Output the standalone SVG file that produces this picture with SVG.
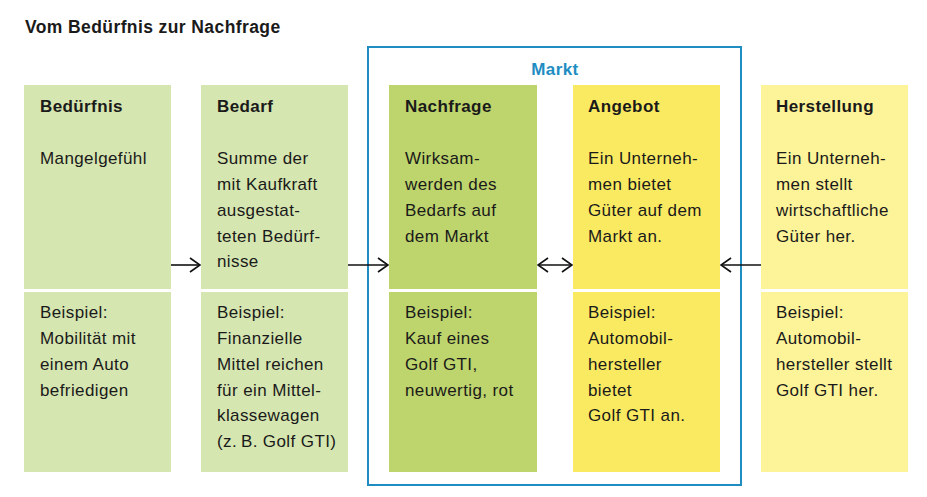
<svg xmlns="http://www.w3.org/2000/svg" width="927" height="497" viewBox="0 0 927 497">
<style>
text{font-family:"Liberation Sans",Arial,sans-serif;fill:#1a1a1a;letter-spacing:0.4px}
.t{font-size:17.5px;font-weight:bold}
.h{font-size:17px;font-weight:bold}
.b{font-size:17px}
.m{font-size:17px;font-weight:bold;fill:#1f8dc2}
.c1{fill:#d6e6b0}
.c2{fill:#bed46c}
.c3{fill:#faea62}
.c4{fill:#fdf398}
.con{stroke:#111;stroke-width:1.6;fill:none}
</style>
<defs>
<marker id="ah" viewBox="0 0 12 16" refX="11" refY="8" markerWidth="12" markerHeight="16" markerUnits="userSpaceOnUse" orient="auto-start-reverse">
<path d="M1,1 L11,8 L1,15" fill="none" stroke="#111" stroke-width="1.6"/>
</marker>
</defs>
<rect width="927" height="497" fill="#fff"/>
<text class="t" x="25" y="33">Vom Bedürfnis zur Nachfrage</text>
<g id="markt">
<rect x="368" y="47" width="373" height="438" fill="none" stroke="#1f8dc2" stroke-width="2"/>
<text class="m" x="555" y="75" text-anchor="middle">Markt</text>
</g>
<g id="beduerfnis">
<rect class="c1" x="24" y="85" width="147" height="204"/>
<rect class="c1" x="24" y="292" width="147" height="180"/>
<text class="h" x="40" y="112">Bedürfnis</text>
<text class="b" x="40" y="164">Mangelgefühl</text>
<text class="b" x="40" y="318">Beispiel:</text>
<text class="b" x="40" y="344">Mobilität mit</text>
<text class="b" x="40" y="370">einem Auto</text>
<text class="b" x="40" y="396">befriedigen</text>
</g>
<g id="bedarf">
<rect class="c1" x="201" y="85" width="147" height="204"/>
<rect class="c1" x="201" y="292" width="147" height="180"/>
<text class="h" x="217" y="112">Bedarf</text>
<text class="b" x="217" y="164">Summe der</text>
<text class="b" x="217" y="190">mit Kaufkraft</text>
<text class="b" x="217" y="216">ausgestat-</text>
<text class="b" x="217" y="242">teten Bedürf-</text>
<text class="b" x="217" y="267">nisse</text>
<text class="b" x="217" y="318">Beispiel:</text>
<text class="b" x="217" y="344">Finanzielle</text>
<text class="b" x="217" y="370">Mittel reichen</text>
<text class="b" x="217" y="396">für ein Mittel-</text>
<text class="b" x="217" y="421">klassewagen</text>
<text class="b" x="217" y="447">(z.&#8239;B. Golf GTI)</text>
</g>
<g id="nachfrage">
<rect class="c2" x="389" y="85" width="148" height="204"/>
<rect class="c2" x="389" y="292" width="148" height="180"/>
<text class="h" x="405" y="112">Nachfrage</text>
<text class="b" x="405" y="164">Wirksam-</text>
<text class="b" x="405" y="190">werden des</text>
<text class="b" x="405" y="216">Bedarfs auf</text>
<text class="b" x="405" y="242">dem Markt</text>
<text class="b" x="405" y="318">Beispiel:</text>
<text class="b" x="405" y="344">Kauf eines</text>
<text class="b" x="405" y="370">Golf GTI,</text>
<text class="b" x="405" y="396">neuwertig, rot</text>
</g>
<g id="angebot">
<rect class="c3" x="573" y="85" width="147" height="204"/>
<rect class="c3" x="573" y="292" width="147" height="180"/>
<text class="h" x="588" y="112">Angebot</text>
<text class="b" x="588" y="164">Ein Unterneh-</text>
<text class="b" x="588" y="190">men bietet</text>
<text class="b" x="588" y="216">Güter auf dem</text>
<text class="b" x="588" y="242">Markt an.</text>
<text class="b" x="588" y="318">Beispiel:</text>
<text class="b" x="588" y="344">Automobil-</text>
<text class="b" x="588" y="370">hersteller</text>
<text class="b" x="588" y="396">bietet</text>
<text class="b" x="588" y="421">Golf GTI an.</text>
</g>
<g id="herstellung">
<rect class="c4" x="761" y="85" width="147" height="204"/>
<rect class="c4" x="761" y="292" width="147" height="180"/>
<text class="h" x="776" y="112">Herstellung</text>
<text class="b" x="776" y="164">Ein Unterneh-</text>
<text class="b" x="776" y="190">men stellt</text>
<text class="b" x="776" y="216">wirtschaftliche</text>
<text class="b" x="776" y="242">Güter her.</text>
<text class="b" x="776" y="318">Beispiel:</text>
<text class="b" x="776" y="344">Automobil-</text>
<text class="b" x="776" y="370">hersteller stellt</text>
<text class="b" x="776" y="396">Golf GTI her.</text>
</g>
<g id="connectors">
<line class="con" x1="171" y1="265" x2="200" y2="265" marker-end="url(#ah)"/>
<line class="con" x1="348" y1="265" x2="388" y2="265" marker-end="url(#ah)"/>
<line class="con" x1="538" y1="265" x2="572" y2="265" marker-start="url(#ah)" marker-end="url(#ah)"/>
<line class="con" x1="761" y1="265" x2="721" y2="265" marker-end="url(#ah)"/>
</g>
</svg>
